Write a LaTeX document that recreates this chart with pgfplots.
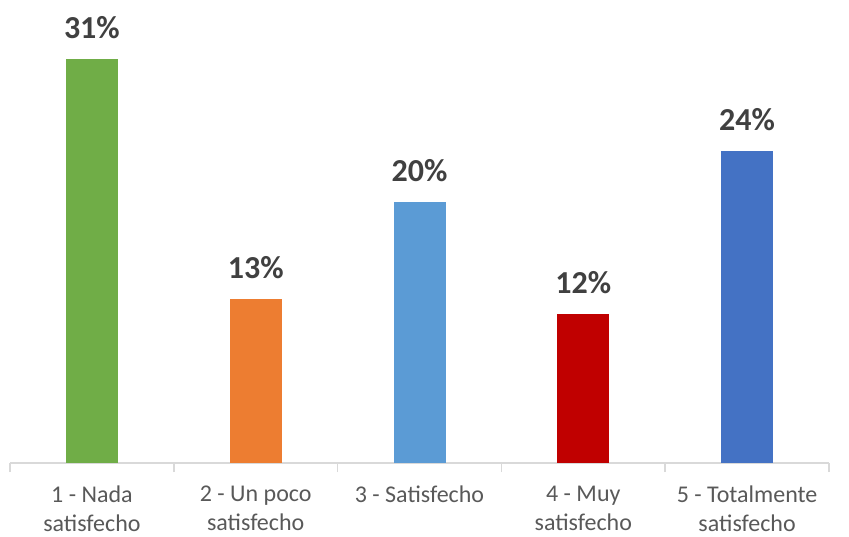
\documentclass[border=0pt]{standalone}
\usepackage{fontspec}
\setmainfont{Carlito}
\usepackage{pgfplots}
\pgfplotsset{compat=1.18}
\definecolor{cgreen}{HTML}{70AD47}
\definecolor{corange}{HTML}{ED7D31}
\definecolor{clblue}{HTML}{5B9BD5}
\definecolor{cred}{HTML}{C00000}
\definecolor{cblue}{HTML}{4472C4}
\definecolor{axgray}{HTML}{D9D9D9}
\definecolor{lblgray}{HTML}{595959}
\definecolor{valgray}{HTML}{404040}
\begin{document}
\begin{tikzpicture}
\begin{axis}[
  name=ax,
  scale only axis,
  width=819pt, height=463pt,
  xmin=-0.5, xmax=4.5,
  ymin=0, ymax=35.5,
  axis y line=none,
  axis x line*=bottom,
  x axis line style={draw=axgray, line width=1.5pt, -},
  xtick={0,1,2,3,4},
  xticklabels={{1 - Nada\\satisfecho},{2 - Un poco\\satisfecho},{3 - Satisfecho},{4 - Muy\\satisfecho},{5 - Totalmente\\satisfecho}},
  xticklabel style={align=center, font=\fontsize{24}{29}\selectfont, text=lblgray, anchor=north, yshift=-15pt},
  major x tick style={draw=none},
  minor xtick={-0.5,0.5,1.5,2.5,3.5,4.5},
  minor x tick style={draw=axgray, line width=1.5pt},
  minor tick length=9pt,
  tick align=outside,
  ybar, bar width=52pt, bar shift=0pt,
  point meta=explicit symbolic,
  nodes near coords,
  nodes near coords style={font=\fontsize{32}{38}\selectfont\bfseries, text=valgray, anchor=south, inner sep=0pt, yshift=20pt},
  clip=false,
]
\addplot[fill=cgreen, draw=none] coordinates {(0,31.0) [31\%]};
\addplot[fill=corange, draw=none] coordinates {(1,12.6) [13\%]};
\addplot[fill=clblue, draw=none] coordinates {(2,20.0) [20\%]};
\addplot[fill=cred, draw=none] coordinates {(3,11.4) [12\%]};
\addplot[fill=cblue, draw=none] coordinates {(4,23.9) [24\%]};
\end{axis}
\pgfresetboundingbox
\path[use as bounding box] ([xshift=-10pt,yshift=-73pt]ax.south west) rectangle ([xshift=20pt]ax.north east);
\end{tikzpicture}
\end{document}
